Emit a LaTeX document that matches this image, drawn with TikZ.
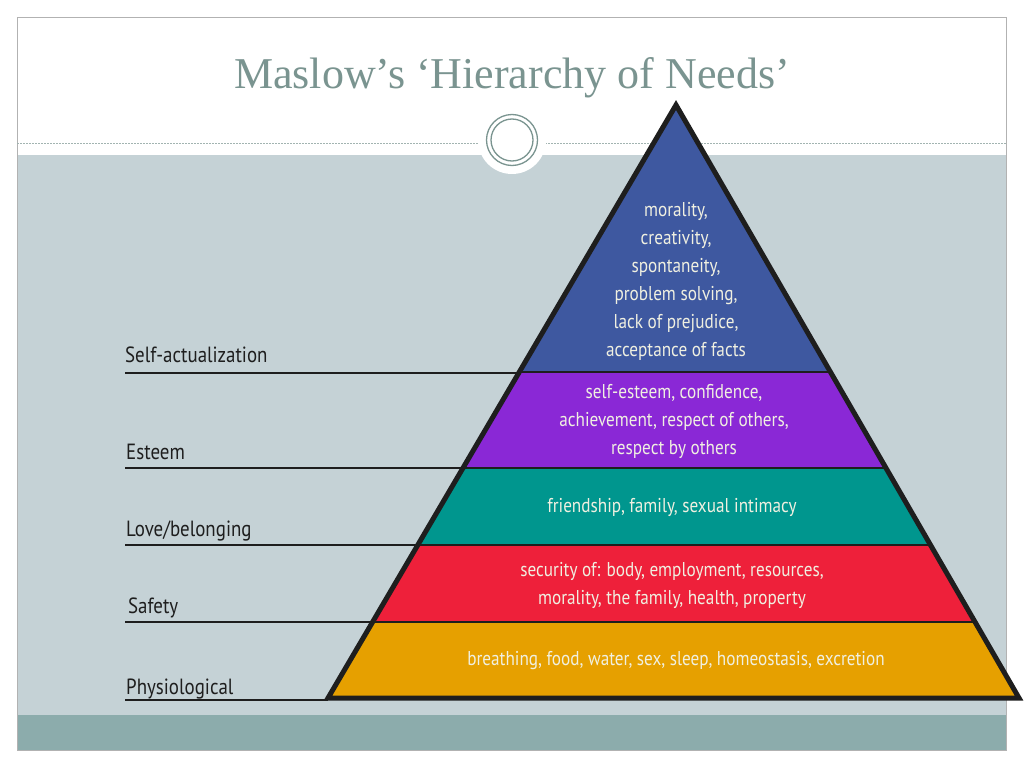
\documentclass[tikz,border=0pt]{standalone}
\usepackage{fontspec}
\setmainfont{Liberation Serif}
\newfontfamily\din[FakeStretch=0.86]{PT Sans}
\definecolor{ttl}{RGB}{122,148,144}
\definecolor{bgg}{RGB}{197,210,214}
\definecolor{barc}{RGB}{140,172,172}
\definecolor{cblue}{RGB}{62,88,160}
\definecolor{cpurp}{RGB}{138,40,214}
\definecolor{cteal}{RGB}{0,150,142}
\definecolor{cred}{RGB}{238,32,58}
\definecolor{corg}{RGB}{230,160,0}
\definecolor{ctxt}{RGB}{240,240,225}
\definecolor{lbl}{RGB}{30,30,30}
\tikzset{
  band/.style={text=ctxt,font=\din\fontsize{20}{28}\selectfont,align=center,inner sep=0},
  lab/.style={text=lbl,font=\din\fontsize{22}{26}\selectfont,anchor=base west,inner sep=0},
  lline/.style={line width=2.2pt,draw=lbl}
}
\begin{document}
\begin{tikzpicture}[x=1pt,y=-1pt]
\useasboundingbox (0,0) rectangle (1024,768);
\fill[white] (0,0) rectangle (1024,768);
\fill[bgg] (17,155) rectangle (1006,715);
\fill[barc] (17,715) rectangle (1006,750);
\draw[gray!60,line width=0.6pt] (17,17) rectangle (1006,750);
\draw[ttl!70,dashed,line width=0.6pt,dash pattern=on 2pt off 1pt] (17,143) -- (1006,143);
\fill[white] (512,140) circle (34);
\draw[ttl,line width=1.3pt] (512,140) circle (25.5);
\draw[ttl,line width=1.3pt] (512,140) circle (21);
\node[text=ttl,font=\fontsize{44}{50}\selectfont,inner sep=0] (title) at (512,78) {Maslow’s ‘Hierarchy of Needs’};
% pyramid
\coordinate (A) at (676,105);
\coordinate (L) at (328,698);
\coordinate (R) at (1019,698);
\def\xl#1{\pgfmathparse{676-348*(#1-105)/593}\pgfmathresult}
\def\xr#1{\pgfmathparse{676+343*(#1-105)/593}\pgfmathresult}
\fill[cblue] (A) -- (519.3,372) -- (830.4,372) -- cycle;
\fill[cpurp] (519.3,372) -- (462.9,468) -- (885.9,468) -- (830.4,372) -- cycle;
\fill[cteal] (462.9,468) -- (417.7,545) -- (930.5,545) -- (885.9,468) -- cycle;
\fill[cred] (417.7,545) -- (372.5,622) -- (975,622) -- (930.5,545) -- cycle;
\fill[corg] (372.5,622) -- (L) -- (R) -- (975,622) -- cycle;
\draw[lbl,line width=2.5pt] (519.3,372) -- (830.4,372) (462.9,468) -- (885.9,468) (417.7,545) -- (930.5,545) (372.5,622) -- (975,622);
\draw[lbl,line width=5pt,line join=miter] (A) -- (L) -- (R) -- cycle;
\node[band] (t1) at (676,281) {morality,\\creativity,\\spontaneity,\\problem solving,\\lack of prejudice,\\acceptance of facts};
\node[band] (t2) at (674,421) {self-esteem, confidence,\\achievement, respect of others,\\respect by others};
\node[band] (t3) at (672,507) {friendship, family, sexual intimacy};
\node[band] (t4) at (672,585) {security of: body, employment, resources,\\morality, the family, health, property};
\node[band] (t5) at (676,661) {breathing, food, water, sex, sleep, homeostasis, excretion};
% labels
\node[lab] (l1) at (125,362) {Self-actualization};
\node[lab] (l2) at (126,459) {Esteem};
\node[lab] (l3) at (126,536) {Love/belonging};
\node[lab] (l4) at (128,613) {Safety};
\node[lab] (l5) at (126,694) {Physiological};
\draw[lline] (125,373) -- (519.3,373);
\draw[lline] (125,468) -- (462.9,468);
\draw[lline] (125,545) -- (417.7,545);
\draw[lline] (125,622) -- (372.5,622);
\draw[lline] (125,700) -- (328,700);
\end{tikzpicture}
\end{document}
